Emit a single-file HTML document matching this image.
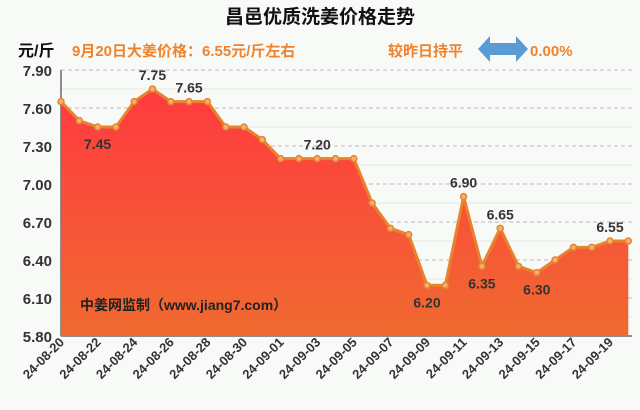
<!DOCTYPE html>
<html><head><meta charset="utf-8"><style>
body{margin:0;background:#f8faf8;}
svg{display:block;font-family:"Liberation Sans","Noto Sans CJK SC",sans-serif;}
</style></head><body>
<svg id="s" width="640" height="410" xmlns="http://www.w3.org/2000/svg">
<defs><linearGradient id="g" x1="0" y1="0" x2="0" y2="1"><stop offset="0" stop-color="#ff3a40"/><stop offset="1" stop-color="#f06a30"/></linearGradient></defs>
<rect width="640" height="410" fill="#f8faf8"/>
<text x="320" y="23" text-anchor="middle" font-size="19" font-weight="bold" fill="#111">昌邑优质洗姜价格走势</text>
<text x="18" y="56" font-size="16" font-weight="bold" fill="#111">元/斤</text>
<text x="72" y="56" font-size="15" font-weight="bold" fill="#f0822c">9月20日大姜价格：6.55元/斤左右</text>
<text x="388" y="56" font-size="15" font-weight="bold" fill="#f0822c">较昨日持平</text>
<polygon points="478,49 490,36 490,43 516,43 516,36 528,49 516,62 516,55 490,55 490,62" fill="#5b9bd5"/>
<text x="530" y="56" font-size="15" font-weight="bold" fill="#f0822c">0.00%</text>
<g id="grid"></g><g id="plot"></g>
</svg>
<script>
var d=[7.65,7.50,7.45,7.45,7.65,7.75,7.65,7.65,7.65,7.45,7.45,7.35,7.20,7.20,7.20,7.20,7.20,6.85,6.65,6.60,6.20,6.20,6.90,6.35,6.65,6.35,6.30,6.40,6.50,6.50,6.55,6.55];
var dates=[];for(var i=0;i<32;i++){var m=i<12?'08':'09',dd=i<12?20+i:i-11;dates.push('24-'+m+'-'+(dd<10?'0'+dd:dd));}
function X(i){return 61+i*18.3;}function Y(v){return 70+(7.9-v)*126.667;}
var g='',p='';
for(var k=0;k<=14;k++){var v=7.9-k*0.15,y=Y(v);
 if(k%2==0){if(k<14)g+='<line x1="61" x2="632" y1="'+y+'" y2="'+y+'" stroke="#bbb" stroke-dasharray="4,3"/>';
 g+='<text x="52" y="'+(y+6)+'" text-anchor="end" font-size="15" font-weight="bold" fill="#333">'+v.toFixed(2)+'</text>';}
 else g+='<line x1="61" x2="632" y1="'+y+'" y2="'+y+'" stroke="#e6e8e6"/>';}
g+='<line x1="61" x2="61" y1="70" y2="336" stroke="#222"/><line x1="61" x2="632" y1="336" y2="336" stroke="#222"/>';
for(var i=0;i<32;i+=2)g+='<text transform="translate('+(X(i)+4)+',343) rotate(-45)" text-anchor="end" font-size="13" font-weight="bold" fill="#333">'+dates[i]+'</text>';
var pts=d.map(function(v,i){return X(i)+','+Y(v)}).join(' ');
p+='<polygon points="'+X(0)+',336 '+pts+' '+X(31)+',336" fill="url(#g)"/>';
p+='<polyline points="'+pts+'" fill="none" stroke="#e8822c" stroke-width="3" stroke-linejoin="round"/>';
d.forEach(function(v,i){p+='<circle cx="'+X(i)+'" cy="'+Y(v)+'" r="3" fill="#f8b070" stroke="#e8822c" stroke-width="1.5"/>';});
var L=[[2,7.45,1],[5,7.75,-1],[7,7.65,-1],[14,7.20,-1],[20,6.20,1],[22,6.90,-1],[23,6.35,1],[24,6.65,-1],[26,6.30,1],[30,6.55,-1]];
L.forEach(function(a){var y=Y(a[1])+(a[2]>0?22:-9);p+='<text x="'+X(a[0])+'" y="'+y+'" text-anchor="middle" font-size="14" font-weight="bold" fill="#333">'+a[1].toFixed(2)+'</text>';});
p+='<text x="80" y="310" font-size="14" font-weight="bold" fill="#222">中姜网监制（www.jiang7.com）</text>';
document.getElementById('grid').innerHTML=g;document.getElementById('plot').innerHTML=p;
</script>
</body></html>
